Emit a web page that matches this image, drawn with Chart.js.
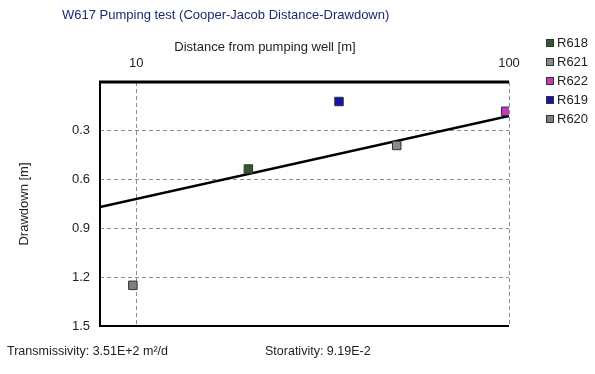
<!DOCTYPE html>
<html lang="en">
<head>
<meta charset="utf-8" />
<title>W617 Pumping test</title>
<script src="https://cdn.jsdelivr.net/npm/chart.js"></script>
<style>
  html, body { margin: 0; padding: 0; background: #fff; }
  #wrap { width: 595px; height: 374px; position: relative; }
</style>
</head>
<body>
<div id="wrap"><canvas id="myChart"></canvas></div>
<script>
// Observation wells: distance from W617 [m] and drawdown [m]
var wells = ['R618', 'R621', 'R622', 'R619', 'R620'];
var distances = [20, 50, 98, 35, 9.8];
var drawdowns = [0.535, 0.39, 0.18, 0.12, 1.25];
var wellColors = ['#2f5a30', '#8a8a8a', '#c03cc0', '#1414a8', '#7f7f7f'];

// Cooper-Jacob straight line, end points at the axis limits
var fitDistances = [8, 100];
var fitDrawdowns = [0.768, 0.209];

var xTicks = [10, 100];
var yTicks = [0, 0.3, 0.6, 0.9, 1.2, 1.5];

var FONT = '"Liberation Sans", Arial, sans-serif';

var datasets = wells.map(function (name, i) {
    return {
        label: name,
        data: [{ x: distances[i], y: drawdowns[i] }],
        backgroundColor: wellColors[i],
        borderColor: '#333',
        borderWidth: 1,
        pointStyle: 'rect',
        pointRadius: 6,
        order: 0
    };
});
datasets.push({
    label: 'fit',
    data: fitDistances.map(function (d, i) { return { x: d, y: fitDrawdowns[i] }; }),
    showLine: true,
    borderColor: '#000',
    borderWidth: 2.5,
    pointRadius: 0,
    order: 1
});

// title, x caption, legend, footer and the plot frame
var extras = {
    id: 'extras',
    beforeDatasetsDraw: function (chart) {
        var a = chart.chartArea, ctx = chart.ctx;
        ctx.save();
        ctx.strokeStyle = '#000';
        ctx.lineWidth = 2;
        ctx.beginPath();
        ctx.moveTo(a.left, a.top);
        ctx.lineTo(a.left, a.bottom);
        ctx.lineTo(a.right, a.bottom);
        ctx.stroke();
        ctx.lineWidth = 3;
        ctx.beginPath();
        ctx.moveTo(a.left - 1, a.top);
        ctx.lineTo(a.right, a.top);
        ctx.stroke();
        ctx.restore();
    },
    afterDraw: function (chart) {
        var ctx = chart.ctx;
        ctx.save();
        ctx.textBaseline = 'middle';
        ctx.font = '13px ' + FONT;

        ctx.fillStyle = '#1c2a6e';
        ctx.textAlign = 'left';
        ctx.fillText('W617 Pumping test (Cooper-Jacob Distance-Drawdown)', 62, 15);

        ctx.fillStyle = '#222';
        ctx.textAlign = 'center';
        ctx.fillText('Distance from pumping well [m]', 265, 47);

        ctx.textAlign = 'left';
        wells.forEach(function (name, i) {
            var y = Math.round(42.5 + 19 * i);
            ctx.fillStyle = wellColors[i];
            ctx.fillRect(546, y - 4, 8, 8);
            ctx.strokeStyle = '#333';
            ctx.lineWidth = 1;
            ctx.strokeRect(546.5, y - 3.5, 7, 7);
            ctx.fillStyle = '#222';
            ctx.fillText(name, 557, y);
        });

        ctx.font = '12.5px ' + FONT;
        ctx.fillText('Transmissivity: 3.51E+2 m\u00b2/d', 7, 352);
        ctx.fillText('Storativity: 9.19E-2', 265, 352);
        ctx.restore();
    }
};

new Chart(document.getElementById('myChart'), {
    type: 'scatter',
    data: { datasets: datasets },
    plugins: [extras],
    options: {
        responsive: true,
        maintainAspectRatio: false,
        animation: false,
        layout: { padding: { left: 10, top: 52, right: 86, bottom: 48 } },
        plugins: {
            legend: { display: false },
            tooltip: { enabled: false }
        },
        scales: {
            x: {
                type: 'logarithmic',
                position: 'top',
                min: 8,
                max: 100,
                afterBuildTicks: function (axis) {
                    axis.ticks = xTicks.map(function (v) { return { value: v }; });
                },
                afterFit: function (axis) { axis.height = 30; },
                border: { display: false, dash: [4, 3] },
                grid: { color: '#8c8c8c', drawTicks: false },
                ticks: {
                    padding: 11,
                    color: '#222',
                    font: { family: FONT, size: 13 },
                    maxRotation: 0,
                    callback: function (v) { return String(v); }
                }
            },
            y: {
                reverse: true,
                min: 0,
                max: 1.5,
                afterBuildTicks: function (axis) {
                    axis.ticks = yTicks.map(function (v) { return { value: v }; });
                },
                afterFit: function (axis) { axis.width = 90; },
                border: { display: false, dash: [4, 3] },
                grid: { color: '#8c8c8c', drawTicks: false },
                title: {
                    display: true,
                    text: 'Drawdown [m]',
                    color: '#222',
                    font: { family: FONT, size: 13 },
                    padding: { top: 7, bottom: 0 }
                },
                ticks: {
                    padding: 10,
                    color: '#222',
                    font: { family: FONT, size: 13 },
                    callback: function (v) { return v === 0 ? '' : v.toFixed(1); }
                }
            }
        }
    }
});
</script>
</body>
</html>
